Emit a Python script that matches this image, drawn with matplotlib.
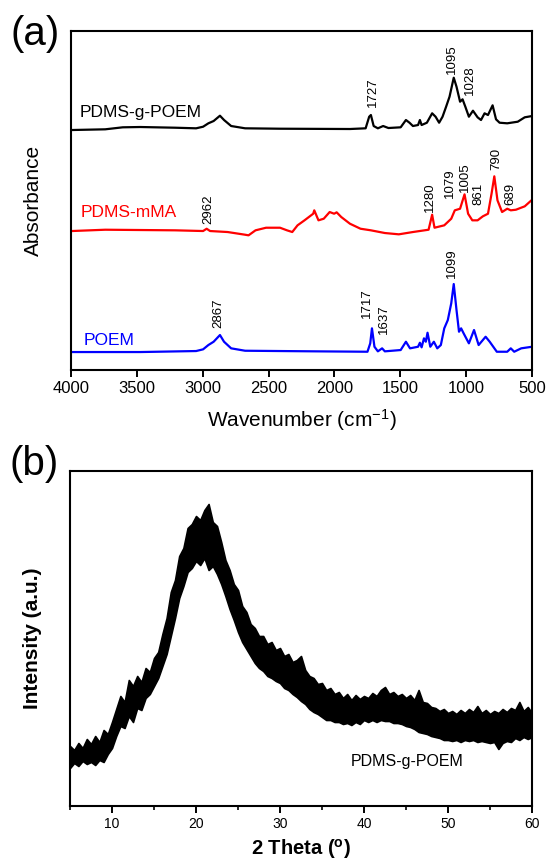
import numpy as np
import matplotlib.pyplot as plt

plt.rcParams['font.family'] = ['Liberation Sans', 'DejaVu Sans']
plt.rcParams['mathtext.default'] = 'regular'

# (a) FTIR spectra, absorbance (a.u.) above each curve's own baseline
wn_graft = [3992, 3740, 3607, 3474, 3209, 3050, 2997, 2957, 2917, 2869, 2838, 2784, 2678, 2413,
            1882, 1763, 1736, 1723, 1702, 1670, 1630, 1590, 1497, 1457, 1430, 1404, 1365, 1351,
            1338, 1298, 1258, 1232, 1205, 1179, 1152, 1126, 1094, 1073, 1046, 1027, 1006, 979,
            948, 913, 887, 860, 834, 799, 773, 746, 688, 608, 555, 499]
ab_graft = [0, 0.7, 2.7, 3, 2.3, 1.7, 3.3, 6.7, 9, 14.3, 10, 4, 1.7, 1.3,
            1, 1.7, 13.3, 15, 4, 1.7, 4, 2, 2.7, 10, 7.3, 4, 5, 10,
            5, 7.3, 16.7, 13.3, 7.3, 13.3, 23.3, 33.3, 52.3, 43.3, 28.3, 30.7, 23.3, 13.3,
            19.3, 12.7, 10, 16.7, 15, 24.7, 10.7, 7.3, 6.7, 8.3, 12.7, 14]

wn_mma = [3992, 3740, 3474, 3209, 2997, 2970, 2944, 2811, 2678, 2652, 2599, 2519, 2413, 2360,
          2320, 2280, 2227, 2161, 2153, 2121, 2081, 2036, 2002, 1983, 1948, 1882, 1802, 1723,
          1617, 1511, 1404, 1285, 1258, 1240, 1166, 1113, 1086, 1046, 1012, 985, 953, 913,
          873, 834, 807, 786, 762, 727, 688, 661, 622, 555, 499]
ab_mma = [0, 1.3, 1, 0.7, 0, 2.3, 0, -1, -3.7, -4.3, 0.7, 3.3, 3.3, 0.7,
          -1, 5.7, 10.7, 17.3, 20.7, 10.7, 12.3, 19, 17.3, 18.7, 14, 7.3, 2.3, 0.7,
          -2, -3.3, -1, 1.3, 16.3, 3.3, 5.7, 12.3, 20.7, 22.3, 36.7, 17.3, 10.7, 10.7,
          14.7, 17.3, 37.3, 54.7, 30.7, 19, 22.3, 20.7, 21.3, 24.7, 31.3]

wn_poem = [3992, 3474, 3050, 2997, 2957, 2917, 2869, 2838, 2784, 2678, 2147, 1749, 1728, 1715,
           1696, 1670, 1638, 1617, 1497, 1457, 1426, 1365, 1351, 1338, 1320, 1306, 1293, 1272,
           1245, 1219, 1192, 1166, 1139, 1113, 1094, 1073, 1054, 1038, 1019, 979, 940, 905,
           852, 821, 794, 767, 688, 661, 635, 582, 499]
ab_poem = [0, 0, 1, 2.7, 7, 10.3, 17, 10.3, 3.7, 1.3, 0.7, 0.3, 8.7, 23.7,
           5.3, 0.7, 3.7, 0.7, 2, 10.3, 3.7, 5.3, 9.3, 4.7, 13.7, 10.3, 19.3, 5.3,
           10.3, 3.7, 7, 23.7, 32, 48.7, 68, 42, 20.3, 23.7, 18.7, 8.7, 22, 7,
           15.3, 10.3, 5.3, 0.3, 0.3, 3.7, 0.3, 3.7, 5.3]

graft_peaks = ['1727', '1095', '1028']
mma_peaks = ['2962', '1280', '1079', '1005', '861', '790', '689']
poem_peaks = ['2867', '1717', '1637', '1099']

# (b) XRD, upper and lower edge of the noisy trace
two_theta = np.arange(5, 60.5, 0.5)
xrd_top = [60, 56, 63, 58, 67, 62, 70, 64, 76, 72,
           84, 97, 110, 104, 126, 120, 130, 124, 138, 134,
           148, 154, 172, 188, 214, 226, 250, 258, 278, 282,
           290, 286, 296, 302, 284, 280, 264, 246, 236, 222,
           216, 200, 194, 182, 178, 170, 170, 162, 164, 156,
           158, 150, 152, 144, 146, 150, 136, 130, 128, 122,
           123, 116, 118, 112, 114, 108, 112, 106, 111, 107,
           110, 108, 113, 110, 116, 119, 112, 114, 110, 112,
           108, 111, 106, 116, 104, 103, 99, 98, 95, 97,
           93, 95, 92, 96, 93, 97, 94, 100, 93, 96,
           92, 95, 93, 97, 94, 98, 96, 104, 95, 99,
           93]
xrd_bottom = [38, 43, 40, 45, 42, 44, 41, 46, 44, 52,
              58, 70, 80, 78, 90, 84, 98, 96, 108, 112,
              120, 128, 140, 152, 170, 188, 208, 220, 234, 238,
              245, 241, 248, 236, 240, 232, 222, 210, 197, 186,
              174, 164, 157, 150, 143, 138, 135, 130, 128, 125,
              123, 118, 116, 112, 109, 105, 102, 97, 94, 92,
              89, 86, 86, 84, 84, 82, 83, 81, 84, 82,
              86, 84, 86, 84, 86, 85, 85, 83, 83, 82,
              80, 79, 77, 74, 73, 72, 70, 69, 68, 66,
              66, 65, 66, 64, 66, 65, 66, 64, 65, 64,
              63, 64, 57, 63, 65, 64, 68, 66, 69, 67,
              69]

fig = plt.figure(figsize=(5.49, 8.66), dpi=100)
ax1 = fig.add_axes([0.1293, 0.5727, 0.8397, 0.3915])
ax2 = fig.add_axes([0.1275, 0.0693, 0.8415, 0.3868])

# offsets used to stack the spectra
off_graft, off_mma, off_poem = 240, 139, 18
ax1.plot(wn_graft, np.array(ab_graft) + off_graft, color='black', lw=1.6)
ax1.plot(wn_mma, np.array(ab_mma) + off_mma, color='#ff0000', lw=1.6)
ax1.plot(wn_poem, np.array(ab_poem) + off_poem, color='#0000ff', lw=1.6)

lab_pos = {'1727': (1705, 263), '1095': (1107, 296), '1028': (970, 275),
           '2962': (2954, 146), '1280': (1277, 158), '1079': (1121, 172), '1005': (1012, 178),
           '861': (905, 165), '790': (768, 200), '689': (666, 165),
           '2867': (2878, 42), '1717': (1750, 52), '1637': (1625, 36), '1099': (1105, 92)}
for p in graft_peaks + mma_peaks + poem_peaks:
    x, y = lab_pos[p]
    ax1.text(x, y, p, rotation=90, ha='center', va='bottom', fontsize=9.5)

ax1.text(3932, 258, 'PDMS-g-POEM', color='black', fontsize=12.5, va='center')
ax1.text(3924, 158, 'PDMS-mMA', color='#ff0000', fontsize=12.5, va='center')
ax1.text(3901, 30, 'POEM', color='#0000ff', fontsize=12.5, va='center')

ax1.set_xlim(4000, 500)
ax1.set_ylim(0, 339)
ax1.set_xticks([4000, 3500, 3000, 2500, 2000, 1500, 1000, 500])
ax1.set_yticks([])
ax1.tick_params(axis='x', direction='out', length=5, width=1.4, labelsize=12, pad=3)
ax1.set_xlabel('Wavenumber (cm$^{-1}$)', fontsize=15, labelpad=8)
ax1.set_ylabel('Absorbance', fontsize=15, labelpad=20)

ax2.fill_between(two_theta, xrd_bottom, xrd_top, color='black', lw=1.2)
ax2.text(38.4, 44, 'PDMS-g-POEM', fontsize=11.5, va='center')
ax2.set_xlim(5, 60)
ax2.set_ylim(0, 335)
ax2.set_xticks([10, 20, 30, 40, 50, 60])
ax2.set_xticks([5, 15, 25, 35, 45, 55], minor=True)
ax2.set_yticks([])
ax2.tick_params(axis='x', which='major', direction='out', length=5, width=1.4, labelsize=10, pad=3)
ax2.tick_params(axis='x', which='minor', direction='out', length=3, width=1.2)
ax2.set_xlabel('2 Theta ($^{o}$)', fontsize=14.5, fontweight='bold', labelpad=4)
ax2.set_ylabel('Intensity (a.u.)', fontsize=15, fontweight='bold', labelpad=20)

for ax in (ax1, ax2):
    for s in ax.spines.values():
        s.set_linewidth(1.5)

fig.text(10 / 549, 1 - 53 / 866, '(a)', fontsize=29, va='bottom')
fig.text(9 / 549, 1 - 483 / 866, '(b)', fontsize=29, va='bottom')

fig.savefig('out.png', dpi=100)
